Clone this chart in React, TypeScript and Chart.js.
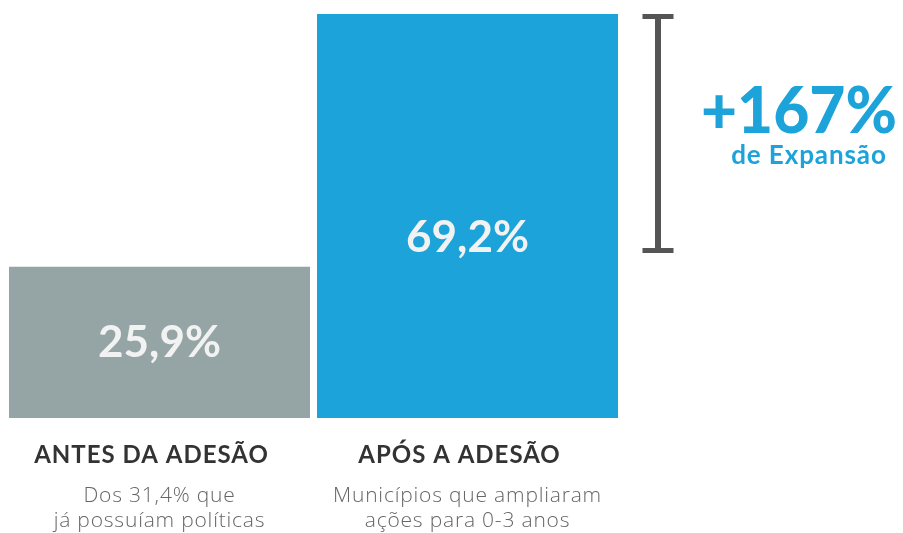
import React, { useEffect, useRef } from "react";
import { Chart, registerables } from "chart.js";

Chart.register(...registerables);

const categories = ["ANTES DA ADESÃO", "APÓS A ADESÃO"];
const subtitles = [
  ["Dos 31,4% que", "já possuíam políticas"],
  ["Municípios que ampliaram", "ações para 0-3 anos"],
];
const values = [25.9, 69.2];
const valueLabels = ["25,9%", "69,2%"];
const barColors = ["#95A5A6", "#1CA3DA"];
const expansionLabel = "+167%";
const expansionSub = "de Expansão";
const bracketRange = [69.2, 28.7];

const FONT = "Lato, 'Open Sans', sans-serif";

const overlayPlugin = {
  id: "overlay",
  afterDatasetsDraw(chart: any) {
    const ctx = chart.ctx as any;
    const meta = chart.getDatasetMeta(0);
    const area = chart.chartArea;
    const y = chart.scales.y;
    const labelFrac = [0.5, 0.555];
    ctx.save();
    meta.data.forEach((bar: any, i: number) => {
      const cy = bar.y + (bar.base - bar.y) * labelFrac[i];
      ctx.fillStyle = "#F2F2F2";
      ctx.font = `bold 44px ${FONT}`;
      ctx.letterSpacing = "0px";
      ctx.textAlign = "center";
      ctx.textBaseline = "middle";
      ctx.fillText(valueLabels[i], bar.x, cy);
      // category title
      ctx.fillStyle = "#333333";
      ctx.font = `bold 24px ${FONT}`;
      ctx.letterSpacing = "1px";
      ctx.textBaseline = "alphabetic";
      ctx.fillText(categories[i], bar.x - 8, area.bottom + 45);
      // subtitle
      ctx.fillStyle = "#666666";
      ctx.font = `300 21px 'Open Sans', ${FONT}`;
      ctx.letterSpacing = "0.8px";
      subtitles[i].forEach((line, j) => {
        ctx.fillText(line, bar.x, area.bottom + 84 + j * 25);
      });
    });
    ctx.letterSpacing = "0px";
    // bracket
    const bx = area.right + 36.5;
    const top = y.getPixelForValue(bracketRange[0]) + 2.5;
    const bottom = y.getPixelForValue(bracketRange[1]);
    ctx.strokeStyle = "#555555";
    ctx.lineWidth = 6;
    ctx.beginPath();
    ctx.moveTo(bx, top);
    ctx.lineTo(bx, bottom);
    ctx.stroke();
    ctx.lineWidth = 5;
    ctx.beginPath();
    ctx.moveTo(bx - 15.5, top);
    ctx.lineTo(bx + 15.5, top);
    ctx.moveTo(bx - 15.5, bottom);
    ctx.lineTo(bx + 15.5, bottom);
    ctx.stroke();
    // expansion text
    ctx.fillStyle = "#1CA3DA";
    ctx.textAlign = "center";
    ctx.textBaseline = "alphabetic";
    ctx.font = `900 64px ${FONT}`;
    ctx.fillText(expansionLabel, bx + 141, 133, 196);
    ctx.font = `bold 26px ${FONT}`;
    ctx.letterSpacing = "0.9px";
    ctx.fillText(expansionSub, bx + 151, 164);
    ctx.restore();
  },
};

export default function App() {
  const ref = useRef<HTMLCanvasElement | null>(null);
  useEffect(() => {
    if (!ref.current) return;
    const chart = new Chart(ref.current, {
      type: "bar",
      data: {
        labels: categories,
        datasets: [
          {
            data: values,
            backgroundColor: barColors,
            borderWidth: 0,
            barPercentage: 301 / 308,
            categoryPercentage: 1,
          },
        ],
      },
      options: {
        animation: false,
        responsive: true,
        maintainAspectRatio: false,
        layout: { padding: { left: 5.5, right: 281.5, top: 14, bottom: 115 } },
        plugins: { legend: { display: false }, tooltip: { enabled: false } },
        scales: {
          x: { display: false },
          y: { display: false, min: 0, max: 69.2 },
        },
      },
      plugins: [overlayPlugin],
    });
    return () => chart.destroy();
  }, []);
  return (
    <div style={{ position: "absolute", left: 0, top: 0, width: 903, height: 533, background: "#fff" }}>
      <canvas ref={ref} />
    </div>
  );
}
